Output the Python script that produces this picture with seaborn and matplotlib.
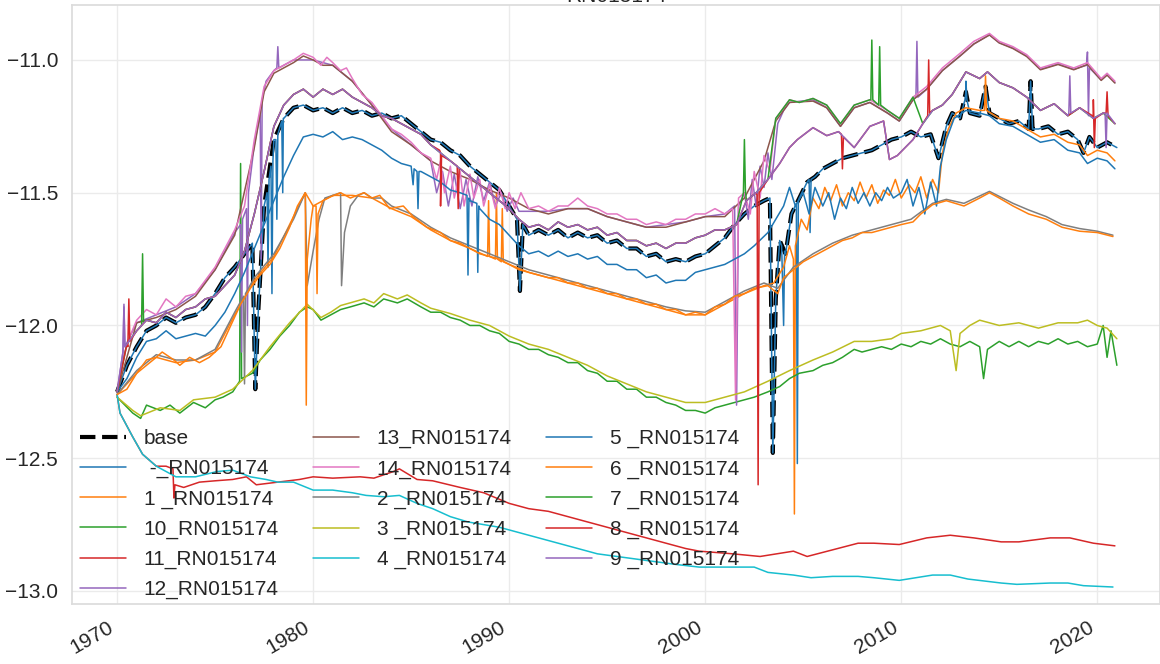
import matplotlib
matplotlib.use("Agg")
import matplotlib.pyplot as plt
import seaborn as sns

TITLE = "RN015174"
XTICKS = [1970, 1980, 1990, 2000, 2010, 2020]
YTICKS = [-13.0, -12.5, -12.0, -11.5, -11.0]

# ---- series values: (decimal year, value) ----
base_pts = [(1970.0,-12.25),(1970.5,-12.15),(1971.0,-12.08),(1971.5,-12.02),(1972.0,-12.0),(1972.5,-11.97),(1973.0,-11.99),(1973.5,-11.97),(1974.0,-11.96),(1974.5,-11.93),(1975.0,-11.88),(1975.5,-11.82),(1976.0,-11.78),(1976.5,-11.73),(1976.9,-11.69),(1977.05,-12.24),(1977.2,-11.95),(1977.5,-11.55),(1978.0,-11.3),(1978.5,-11.22),(1979.0,-11.18),(1979.5,-11.17),(1980.0,-11.19),(1980.5,-11.18),(1981.0,-11.2),(1981.5,-11.18),(1982.0,-11.2),(1982.5,-11.19),(1983.0,-11.21),(1983.5,-11.2),(1984.0,-11.22),(1984.5,-11.21),(1985.0,-11.24),(1985.5,-11.27),(1986.0,-11.3),(1986.5,-11.31),(1987.0,-11.34),(1987.5,-11.36),(1988.0,-11.4),(1988.5,-11.43),(1989.0,-11.46),(1989.5,-11.49),(1990.0,-11.55),(1990.4,-11.6),(1990.55,-11.87),(1990.7,-11.62),(1991.0,-11.66),(1991.5,-11.64),(1992.0,-11.66),(1992.5,-11.64),(1993.0,-11.67),(1993.5,-11.65),(1994.0,-11.67),(1994.5,-11.66),(1995.0,-11.69),(1995.5,-11.68),(1996.0,-11.71),(1996.5,-11.71),(1997.0,-11.74),(1997.5,-11.73),(1998.0,-11.76),(1998.5,-11.75),(1999.0,-11.76),(1999.5,-11.74),(2000.0,-11.73),(2000.5,-11.7),(2001.0,-11.67),(2001.5,-11.62),(2002.0,-11.58),(2002.5,-11.55),(2003.0,-11.53),(2003.3,-11.52),(2003.45,-12.48),(2003.6,-11.9),(2003.8,-11.68),(2004.1,-11.73),(2004.4,-11.58),(2004.8,-11.52),(2005.2,-11.46),(2005.6,-11.44),(2006.0,-11.41),(2006.5,-11.39),(2007.0,-11.37),(2007.5,-11.36),(2008.0,-11.35),(2008.5,-11.34),(2009.0,-11.32),(2009.5,-11.3),(2010.0,-11.29),(2010.5,-11.27),(2011.0,-11.29),(2011.5,-11.28),(2011.9,-11.37),(2012.3,-11.25),(2012.6,-11.2),(2013.0,-11.22),(2013.3,-11.12),(2013.5,-11.2),(2014.0,-11.21),(2014.3,-11.1),(2014.5,-11.2),(2015.0,-11.22),(2015.5,-11.24),(2016.0,-11.23),(2016.5,-11.26),(2016.6,-11.08),(2016.7,-11.26),(2017.0,-11.26),(2017.5,-11.25),(2018.0,-11.28),(2018.5,-11.27),(2019.0,-11.3),(2019.3,-11.35),(2019.6,-11.29),(2020.0,-11.33),(2020.5,-11.31),(2021.0,-11.33)]

dash_spikes = [(1977.65,-11.5),(1977.7,-11.78),(1977.75,-11.45),(1977.85,-11.4),(1977.9,-11.88),(1977.95,-11.38),(1978.1,-11.3),(1978.15,-11.6),(1978.2,-11.28),(1978.4,-11.23),(1978.45,-11.5),(1978.48,-11.22),(2003.9,-11.7),(2004.0,-12.0),(2004.05,-11.72),(2004.65,-11.54),(2004.7,-12.52),(2004.75,-11.53),(2005.3,-11.45),(2005.35,-11.65),(2005.4,-11.45),(2013.25,-11.15),(2013.3,-11.08),(2013.35,-11.15)]

s5_pts = [(1970.0,-12.25),(1970.5,-12.2),(1971.0,-12.12),(1971.5,-12.06),(1972.0,-12.05),(1972.5,-12.02),(1973.0,-12.05),(1973.5,-12.04),(1974.0,-12.03),(1974.5,-12.04),(1975.0,-12.0),(1975.5,-11.95),(1976.0,-11.88),(1976.5,-11.8),(1977.0,-11.71),(1977.5,-11.62),(1978.0,-11.53),(1978.5,-11.44),(1979.0,-11.36),(1979.5,-11.29),(1980.0,-11.28),(1980.5,-11.29),(1981.0,-11.27),(1981.5,-11.3),(1982.0,-11.29),(1982.5,-11.3),(1983.0,-11.32),(1983.5,-11.34),(1984.0,-11.37),(1984.5,-11.39),(1985.0,-11.4),(1985.1,-11.47),(1985.15,-11.41),(1985.3,-11.42),(1985.35,-11.56),(1985.4,-11.42),(1985.5,-11.42),(1986.0,-11.44),(1986.5,-11.46),(1987.0,-11.49),(1987.5,-11.5),(1987.85,-11.51),(1987.9,-11.81),(1987.95,-11.52),(1988.0,-11.53),(1988.35,-11.54),(1988.4,-11.8),(1988.45,-11.55),(1988.5,-11.56),(1989.0,-11.6),(1989.5,-11.62),(1990.0,-11.66),(1990.5,-11.7),(1991.0,-11.73),(1991.5,-11.72),(1992.0,-11.74),(1992.5,-11.72),(1993.0,-11.74),(1993.5,-11.73),(1994.0,-11.75),(1994.5,-11.74),(1995.0,-11.77),(1995.5,-11.77),(1996.0,-11.79),(1996.5,-11.79),(1997.0,-11.82),(1997.5,-11.81),(1998.0,-11.84),(1998.5,-11.83),(1999.0,-11.83),(1999.5,-11.8),(2000.0,-11.79),(2000.5,-11.78),(2001.0,-11.77),(2001.5,-11.75),(2002.0,-11.73),(2002.5,-11.7),(2003.2,-11.65),(2003.6,-11.6),(2004.0,-11.55),(2004.3,-11.48),(2004.6,-11.55),(2005.0,-11.5),(2005.3,-11.58),(2005.6,-11.48),(2006.0,-11.55),(2006.3,-11.5),(2006.6,-11.6),(2006.9,-11.52),(2007.2,-11.56),(2007.5,-11.48),(2007.8,-11.54),(2008.1,-11.5),(2008.4,-11.55),(2008.7,-11.5),(2009.0,-11.53),(2009.3,-11.48),(2009.6,-11.52),(2010.0,-11.5),(2010.3,-11.45),(2010.6,-11.55),(2010.9,-11.48),(2011.2,-11.58),(2011.5,-11.46),(2011.8,-11.55),(2012.0,-11.4),(2012.3,-11.3),(2012.7,-11.22),(2013.3,-11.19),(2014.0,-11.2),(2014.5,-11.21),(2015.0,-11.24),(2015.7,-11.25),(2016.4,-11.28),(2017.1,-11.31),(2017.8,-11.3),(2018.5,-11.34),(2019.1,-11.35),(2019.5,-11.39),(2020.0,-11.37),(2020.5,-11.38),(2020.9,-11.41)]

s1_pts = [(1970.0,-12.26),(1971.0,-12.18),(1972.0,-12.12),(1973.0,-12.14),(1974.0,-12.13),(1975.0,-12.1),(1976.0,-11.96),(1977.0,-11.83),(1978.0,-11.74),(1979.0,-11.59),(1979.6,-11.5),(1980.0,-11.55),(1981.0,-11.51),(1982.0,-11.51),(1983.0,-11.52),(1984.0,-11.56),(1985.0,-11.59),(1986.0,-11.64),(1987.0,-11.68),(1988.0,-11.71),(1988.9,-11.74),(1988.95,-11.53),(1989.0,-11.74),(1989.3,-11.75),(1989.35,-11.5),(1989.4,-11.75),(1989.6,-11.76),(1989.65,-11.56),(1989.7,-11.76),(1990.0,-11.77),(1991.0,-11.8),(1992.0,-11.82),(1993.0,-11.84),(1994.0,-11.86),(1995.0,-11.88),(1996.0,-11.9),(1997.0,-11.92),(1998.0,-11.94),(1999.0,-11.96),(2000.0,-11.96),(2001.0,-11.92),(2002.0,-11.88),(2003.0,-11.85),(2003.5,-11.84),(2004.0,-11.78),(2004.3,-11.7),(2004.5,-11.75),(2004.55,-12.71),(2004.6,-11.7),(2004.9,-11.6),(2005.2,-11.64),(2005.5,-11.52),(2005.8,-11.56),(2006.1,-11.48),(2006.4,-11.53),(2006.7,-11.47),(2007.0,-11.55),(2007.3,-11.5),(2007.6,-11.53),(2007.9,-11.46),(2008.2,-11.52),(2008.5,-11.47),(2008.8,-11.54),(2009.1,-11.49),(2009.4,-11.51),(2009.7,-11.45),(2010.0,-11.52),(2010.4,-11.47),(2010.7,-11.5),(2011.0,-11.44),(2011.3,-11.52),(2011.6,-11.45),(2011.9,-11.5),(2012.1,-11.35),(2012.4,-11.26),(2012.8,-11.2),(2013.3,-11.18),(2014.0,-11.19),(2014.25,-11.19),(2014.3,-11.06),(2014.35,-11.19),(2015.0,-11.22),(2015.7,-11.23),(2016.4,-11.26),(2017.1,-11.29),(2017.8,-11.28),(2018.5,-11.31),(2019.1,-11.32),(2019.5,-11.36),(2020.0,-11.34),(2020.5,-11.35),(2020.9,-11.38)]

s6_pts = [(1970.0,-12.26),(1970.5,-12.24),(1971.0,-12.18),(1971.5,-12.13),(1972.0,-12.12),(1972.3,-12.1),(1972.9,-12.13),(1973.2,-12.15),(1973.7,-12.12),(1974.2,-12.14),(1974.7,-12.12),(1975.3,-12.08),(1975.8,-12.0),(1976.3,-11.92),(1976.8,-11.86),(1977.3,-11.81),(1977.8,-11.77),(1978.3,-11.71),(1978.8,-11.63),(1979.2,-11.55),(1979.6,-11.5),(1979.65,-12.3),(1979.7,-11.75),(1979.9,-11.6),(1980.0,-11.55),(1980.15,-11.55),(1980.2,-11.88),(1980.25,-11.58),(1980.5,-11.53),(1980.9,-11.515),(1981.4,-11.5),(1981.9,-11.52),(1982.6,-11.5),(1983.0,-11.52),(1983.4,-11.51),(1983.9,-11.56),(1984.6,-11.55),(1985.1,-11.59),(1985.8,-11.63),(1986.5,-11.65),(1987.0,-11.68),(1987.5,-11.69),(1988.0,-11.71),(1988.5,-11.73),(1989.0,-11.74),(1989.5,-11.75),(1990.0,-11.77),(1990.5,-11.79),(1991.0,-11.8),(1991.5,-11.81),(1992.0,-11.82),(1992.5,-11.82),(1993.0,-11.84),(1993.5,-11.84),(1994.0,-11.86),(1994.5,-11.86),(1995.0,-11.88),(1995.5,-11.88),(1996.0,-11.9),(1996.5,-11.9),(1997.0,-11.92),(1997.5,-11.92),(1998.0,-11.94),(1998.5,-11.94),(1999.0,-11.96),(1999.5,-11.95),(2000.0,-11.96),(2000.5,-11.93),(2001.0,-11.92),(2001.5,-11.89),(2002.0,-11.88),(2002.5,-11.86),(2003.2,-11.85),(2003.7,-11.88),(2004.0,-11.82),(2004.5,-11.79),(2005.0,-11.76),(2005.5,-11.74),(2006.0,-11.72),(2006.5,-11.7),(2007.0,-11.68),(2007.5,-11.67),(2008.0,-11.65),(2008.5,-11.65),(2009.0,-11.64),(2009.5,-11.63),(2010.0,-11.62),(2010.6,-11.61),(2011.0,-11.58),(2011.6,-11.545),(2012.3,-11.53),(2013.2,-11.55),(2014.0,-11.52),(2014.5,-11.5),(2015.0,-11.52),(2015.7,-11.55),(2016.5,-11.58),(2017.4,-11.6),(2018.2,-11.63),(2019.1,-11.645),(2020.0,-11.65),(2020.8,-11.665)]

s2_pts = [(1970.0,-12.26),(1971.0,-12.17),(1972.0,-12.11),(1973.0,-12.13),(1974.0,-12.13),(1975.0,-12.09),(1976.0,-11.95),(1976.45,-11.89),(1976.5,-12.22),(1976.55,-11.88),(1977.0,-11.82),(1978.0,-11.73),(1979.0,-11.6),(1979.6,-11.5),(1979.7,-11.85),(1980.0,-11.72),(1980.3,-11.6),(1980.6,-11.52),(1981.0,-11.51),(1981.4,-11.5),(1981.45,-11.85),(1981.6,-11.65),(1981.9,-11.55),(1982.3,-11.51),(1982.6,-11.5),(1983.0,-11.52),(1983.5,-11.52),(1984.0,-11.55),(1985.0,-11.58),(1986.0,-11.63),(1987.0,-11.67),(1988.0,-11.7),(1989.0,-11.73),(1990.0,-11.76),(1991.0,-11.79),(1992.0,-11.81),(1993.0,-11.83),(1994.0,-11.85),(1995.0,-11.87),(1996.0,-11.89),(1997.0,-11.91),(1998.0,-11.93),(1999.0,-11.945),(2000.0,-11.95),(2001.0,-11.91),(2002.0,-11.87),(2003.0,-11.84),(2003.7,-11.86),(2004.5,-11.78),(2005.5,-11.73),(2006.5,-11.69),(2007.5,-11.66),(2008.5,-11.64),(2009.5,-11.62),(2010.5,-11.6),(2011.6,-11.54),(2012.3,-11.525),(2013.2,-11.54),(2014.5,-11.495),(2015.7,-11.54),(2016.5,-11.565),(2017.4,-11.59),(2018.2,-11.62),(2019.1,-11.635),(2020.0,-11.645),(2020.8,-11.66)]

s10_pts = [(1970.0,-12.27),(1970.4,-12.3),(1970.8,-12.33),(1971.2,-12.35),(1971.5,-12.3),(1972.2,-12.32),(1972.7,-12.3),(1973.2,-12.33),(1973.9,-12.29),(1974.5,-12.31),(1975.0,-12.28),(1975.4,-12.27),(1975.9,-12.25),(1976.25,-12.21),(1976.3,-11.39),(1976.35,-12.2),(1976.9,-12.18),(1977.3,-12.13),(1977.8,-12.09),(1978.3,-12.04),(1978.8,-12.0),(1979.3,-11.95),(1979.7,-11.93),(1980.0,-11.94),(1980.4,-11.98),(1980.9,-11.96),(1981.4,-11.94),(1981.9,-11.93),(1982.6,-11.915),(1983.1,-11.93),(1983.6,-11.9),(1984.3,-11.915),(1984.8,-11.9),(1985.5,-11.93),(1986.0,-11.95),(1986.5,-11.95),(1987.0,-11.97),(1987.5,-11.98),(1988.0,-12.0),(1988.5,-12.0),(1989.0,-12.02),(1989.5,-12.03),(1990.0,-12.06),(1990.5,-12.07),(1991.0,-12.09),(1991.5,-12.09),(1992.0,-12.11),(1992.5,-12.12),(1993.0,-12.14),(1993.5,-12.14),(1994.0,-12.17),(1994.5,-12.18),(1995.0,-12.21),(1995.5,-12.21),(1996.0,-12.24),(1996.5,-12.24),(1997.0,-12.27),(1997.5,-12.27),(1998.0,-12.29),(1998.5,-12.3),(1999.0,-12.32),(1999.5,-12.32),(2000.0,-12.33),(2000.5,-12.31),(2001.0,-12.3),(2001.5,-12.29),(2002.0,-12.28),(2002.5,-12.27),(2003.2,-12.25),(2003.8,-12.23),(2004.3,-12.2),(2004.8,-12.18),(2005.5,-12.17),(2006.0,-12.15),(2006.5,-12.14),(2007.0,-12.12),(2007.6,-12.09),(2008.0,-12.1),(2008.5,-12.09),(2009.0,-12.08),(2009.5,-12.09),(2010.0,-12.07),(2010.5,-12.08),(2011.0,-12.06),(2011.5,-12.07),(2012.0,-12.05),(2012.5,-12.07),(2013.0,-12.08),(2013.5,-12.06),(2014.0,-12.08),(2014.2,-12.2),(2014.4,-12.09),(2015.0,-12.06),(2015.5,-12.08),(2016.0,-12.06),(2016.5,-12.08),(2017.0,-12.06),(2017.5,-12.07),(2018.0,-12.05),(2018.5,-12.07),(2019.0,-12.06),(2019.5,-12.08),(2020.0,-12.07),(2020.3,-12.0),(2020.5,-12.12),(2020.7,-12.02),(2021.0,-12.15)]

s3_pts = [(1970.0,-12.27),(1970.8,-12.32),(1971.2,-12.34),(1972.2,-12.31),(1973.2,-12.32),(1973.9,-12.28),(1975.0,-12.27),(1975.9,-12.24),(1976.9,-12.17),(1977.8,-12.08),(1978.8,-11.99),(1979.7,-11.92),(1980.4,-11.97),(1980.9,-11.95),(1981.4,-11.925),(1982.6,-11.9),(1983.1,-11.915),(1983.6,-11.88),(1984.3,-11.9),(1984.8,-11.885),(1985.5,-11.915),(1986.0,-11.935),(1987.0,-11.955),(1988.0,-11.98),(1989.0,-12.0),(1990.0,-12.04),(1991.0,-12.07),(1992.0,-12.09),(1993.0,-12.12),(1994.0,-12.15),(1995.0,-12.19),(1996.0,-12.22),(1997.0,-12.25),(1998.0,-12.27),(1999.0,-12.29),(2000.0,-12.29),(2001.0,-12.27),(2002.0,-12.25),(2003.2,-12.21),(2004.3,-12.17),(2005.5,-12.13),(2006.5,-12.1),(2007.6,-12.06),(2008.5,-12.06),(2009.5,-12.05),(2010.0,-12.03),(2011.0,-12.02),(2012.0,-12.0),(2012.5,-12.02),(2012.8,-12.17),(2013.0,-12.03),(2013.5,-12.0),(2014.0,-11.98),(2014.5,-11.99),(2015.0,-12.0),(2016.0,-11.99),(2017.0,-12.01),(2018.0,-11.99),(2019.0,-11.99),(2019.5,-11.98),(2020.0,-12.0),(2020.5,-12.01),(2021.0,-12.05)]

s11_pts = [(1970.0,-12.26),(1970.15,-12.33),(1970.8,-12.42),(1971.3,-12.485),(1972.0,-12.53),(1972.5,-12.53),(1972.85,-12.54),(1972.9,-12.65),(1972.95,-12.6),(1973.4,-12.61),(1974.2,-12.59),(1975.0,-12.585),(1975.9,-12.58),(1976.6,-12.57),(1977.1,-12.6),(1978.2,-12.59),(1979.3,-12.58),(1980.0,-12.57),(1981.0,-12.575),(1982.4,-12.57),(1983.1,-12.575),(1984.1,-12.55),(1984.4,-12.54),(1985.3,-12.58),(1986.1,-12.585),(1987.5,-12.61),(1988.7,-12.63),(1990.0,-12.67),(1991.0,-12.69),(1992.0,-12.7),(1993.0,-12.72),(1994.0,-12.74),(1995.0,-12.76),(1996.0,-12.78),(1997.0,-12.8),(1998.0,-12.82),(1999.0,-12.84),(1999.7,-12.85),(2001.4,-12.86),(2002.8,-12.87),(2004.5,-12.85),(2005.2,-12.87),(2006.5,-12.845),(2007.8,-12.82),(2008.6,-12.82),(2009.9,-12.825),(2011.3,-12.8),(2012.5,-12.79),(2013.7,-12.8),(2015.1,-12.815),(2016.0,-12.815),(2017.6,-12.8),(2018.6,-12.8),(2019.8,-12.82),(2020.9,-12.83)]

s4_pts = [(1970.0,-12.26),(1970.15,-12.33),(1970.8,-12.42),(1971.3,-12.485),(1972.0,-12.53),(1972.5,-12.55),(1973.0,-12.57),(1974.0,-12.57),(1975.1,-12.55),(1975.9,-12.545),(1976.8,-12.57),(1977.6,-12.58),(1978.2,-12.59),(1979.0,-12.59),(1980.0,-12.62),(1981.0,-12.62),(1982.0,-12.63),(1982.7,-12.64),(1983.6,-12.645),(1984.4,-12.64),(1985.3,-12.67),(1986.1,-12.69),(1987.0,-12.72),(1987.9,-12.74),(1988.7,-12.75),(1989.5,-12.76),(1990.5,-12.78),(1991.5,-12.8),(1992.5,-12.82),(1993.5,-12.84),(1994.5,-12.86),(1995.5,-12.87),(1996.5,-12.88),(1997.5,-12.89),(1998.5,-12.9),(1999.7,-12.91),(2001.4,-12.91),(2002.5,-12.91),(2003.2,-12.93),(2004.5,-12.94),(2005.4,-12.95),(2006.5,-12.945),(2007.8,-12.945),(2008.6,-12.95),(2009.9,-12.96),(2011.6,-12.94),(2012.5,-12.94),(2013.4,-12.955),(2015.1,-12.97),(2015.9,-12.975),(2017.6,-12.97),(2018.5,-12.97),(2019.3,-12.98),(2020.8,-12.985)]

s14_pts = [(1970.0,-12.25),(1970.3,-12.12),(1970.6,-12.05),(1971.0,-11.98),(1971.5,-11.94),(1972.0,-11.96),(1972.5,-11.9),(1973.0,-11.93),(1973.5,-11.89),(1974.0,-11.88),(1974.5,-11.83),(1975.0,-11.78),(1975.5,-11.71),(1976.0,-11.64),(1976.5,-11.55),(1977.0,-11.3),(1977.5,-11.1),(1978.0,-11.04),(1978.5,-11.02),(1979.0,-11.0),(1979.5,-10.975),(1980.0,-10.99),(1980.4,-11.02),(1980.7,-10.99),(1981.0,-11.01),(1981.4,-11.04),(1981.7,-11.03),(1982.0,-11.07),(1982.5,-11.13),(1983.0,-11.16),(1983.5,-11.21),(1984.0,-11.26),(1984.5,-11.28),(1985.0,-11.31),(1985.5,-11.35),(1986.0,-11.37),(1986.3,-11.45),(1986.5,-11.38),(1986.7,-11.5),(1987.0,-11.4),(1987.2,-11.52),(1987.5,-11.42),(1987.7,-11.55),(1988.0,-11.43),(1988.2,-11.52),(1988.5,-11.45),(1988.7,-11.55),(1989.0,-11.47),(1989.3,-11.56),(1989.5,-11.48),(1989.8,-11.56),(1990.0,-11.5),(1990.3,-11.56),(1990.6,-11.5),(1991.0,-11.56),(1991.5,-11.55),(1992.0,-11.57),(1992.5,-11.55),(1993.0,-11.55),(1993.5,-11.52),(1994.0,-11.55),(1994.5,-11.56),(1995.0,-11.58),(1995.5,-11.58),(1996.0,-11.6),(1996.5,-11.6),(1997.0,-11.62),(1997.5,-11.61),(1998.0,-11.62),(1998.5,-11.6),(1999.0,-11.6),(1999.5,-11.58),(2000.0,-11.58),(2000.5,-11.56),(2001.0,-11.58),(2001.4,-11.56),(2001.55,-12.28),(2001.7,-11.52),(2002.0,-11.5),(2002.3,-11.58),(2002.5,-11.42),(2002.8,-11.52),(2003.0,-11.36),(2003.3,-11.42),(2003.6,-11.22),(2004.0,-11.18),(2004.3,-11.15),(2004.8,-11.16),(2005.5,-11.145),(2006.2,-11.17),(2006.9,-11.24),(2007.6,-11.17),(2008.4,-11.15),(2009.3,-11.19),(2009.9,-11.22),(2010.6,-11.14),(2011.3,-11.1),(2012.1,-11.03),(2013.0,-10.975),(2013.7,-10.93),(2014.5,-10.9),(2015.0,-10.93),(2015.7,-10.95),(2016.4,-10.98),(2017.1,-11.03),(2018.0,-11.01),(2018.8,-11.03),(2019.5,-11.01),(2020.2,-11.07),(2020.5,-11.05),(2020.9,-11.08)]

s13_pts = [(1970.0,-12.25),(1971.0,-11.99),(1972.0,-11.97),(1973.0,-11.94),(1974.0,-11.89),(1975.0,-11.79),(1976.0,-11.66),(1977.0,-11.33),(1977.5,-11.12),(1978.0,-11.05),(1979.0,-11.01),(1979.5,-10.985),(1980.0,-11.0),(1980.5,-11.02),(1981.0,-11.02),(1982.0,-11.08),(1983.0,-11.17),(1984.0,-11.27),(1985.0,-11.32),(1986.0,-11.38),(1987.0,-11.42),(1988.0,-11.45),(1989.0,-11.49),(1990.0,-11.52),(1991.0,-11.56),(1992.0,-11.58),(1993.0,-11.56),(1994.0,-11.56),(1995.0,-11.59),(1996.0,-11.61),(1997.0,-11.63),(1998.0,-11.63),(1999.0,-11.61),(2000.0,-11.59),(2001.0,-11.59),(2002.0,-11.52),(2003.0,-11.38),(2003.6,-11.23),(2004.3,-11.16),(2005.5,-11.155),(2006.2,-11.18),(2006.9,-11.25),(2007.6,-11.18),(2008.4,-11.16),(2009.3,-11.2),(2009.9,-11.23),(2010.6,-11.15),(2011.3,-11.11),(2012.1,-11.04),(2013.0,-10.985),(2013.7,-10.94),(2014.5,-10.906),(2015.0,-10.936),(2015.7,-10.957),(2016.4,-10.987),(2017.1,-11.037),(2018.0,-11.017),(2018.8,-11.037),(2019.5,-11.017),(2020.2,-11.077),(2020.5,-11.057),(2020.9,-11.087)]

s12_pts = [(1970.0,-12.25),(1970.3,-12.1),(1970.35,-11.92),(1970.4,-12.08),(1971.0,-11.99),(1972.0,-11.96),(1973.0,-11.93),(1974.0,-11.88),(1975.0,-11.79),(1975.5,-11.72),(1976.0,-11.65),(1976.3,-11.62),(1976.35,-12.1),(1976.4,-11.6),(1976.6,-11.56),(1976.65,-12.0),(1976.7,-11.5),(1977.0,-11.32),(1977.3,-11.2),(1977.35,-11.75),(1977.4,-11.15),(1977.6,-11.08),(1978.0,-11.04),(1978.15,-11.03),(1978.2,-10.95),(1978.25,-11.03),(1978.5,-11.02),(1979.0,-11.0),(1980.0,-11.0),(1981.0,-11.02),(1982.0,-11.08),(1983.0,-11.17),(1984.0,-11.26),(1985.0,-11.32),(1986.0,-11.38),(1986.3,-11.5),(1986.6,-11.42),(1986.9,-11.55),(1987.2,-11.43),(1987.5,-11.56),(1987.8,-11.45),(1988.1,-11.55),(1988.4,-11.44),(1988.7,-11.53),(1989.0,-11.46),(1989.3,-11.55),(1989.6,-11.5),(1989.9,-11.57),(1990.2,-11.52),(1990.5,-11.57),(1991.0,-11.57),(1992.0,-11.57),(1993.0,-11.56),(1994.0,-11.56),(1995.0,-11.59),(1996.0,-11.61),(1997.0,-11.63),(1998.0,-11.62),(1999.0,-11.61),(2000.0,-11.59),(2001.0,-11.58),(2001.5,-11.55),(2001.6,-12.3),(2001.7,-11.55),(2002.0,-11.5),(2002.2,-11.6),(2002.4,-11.45),(2002.6,-11.55),(2002.8,-11.4),(2003.0,-11.48),(2003.2,-11.35),(2003.4,-11.45),(2003.7,-11.24),(2004.0,-11.19),(2004.3,-11.16),(2005.5,-11.15),(2006.2,-11.18),(2006.9,-11.25),(2007.6,-11.18),(2008.4,-11.16),(2009.3,-11.2),(2009.9,-11.23),(2010.6,-11.15),(2010.75,-11.14),(2010.8,-10.93),(2010.85,-11.14),(2011.3,-11.11),(2012.1,-11.04),(2013.0,-10.985),(2013.7,-10.94),(2014.5,-10.905),(2015.0,-10.935),(2015.7,-10.955),(2016.4,-10.985),(2017.1,-11.035),(2018.0,-11.015),(2018.8,-11.035),(2019.45,-11.02),(2019.5,-10.97),(2019.55,-11.21),(2019.6,-11.03),(2020.2,-11.075),(2020.5,-11.055),(2020.9,-11.085)]

mid_pts = [(1970.0,-12.25),(1970.5,-12.07),(1971.0,-12.02),(1971.5,-11.98),(1972.0,-11.99),(1972.5,-11.95),(1973.0,-11.97),(1973.5,-11.94),(1974.0,-11.93),(1974.5,-11.9),(1975.0,-11.89),(1975.5,-11.85),(1976.0,-11.81),(1976.5,-11.72),(1977.0,-11.58),(1977.5,-11.42),(1978.0,-11.25),(1978.5,-11.17),(1979.0,-11.13),(1979.5,-11.11),(1980.0,-11.14),(1980.5,-11.11),(1981.0,-11.13),(1981.5,-11.11),(1982.0,-11.14),(1982.5,-11.16),(1983.0,-11.18),(1983.5,-11.21),(1984.0,-11.22),(1984.5,-11.24),(1985.0,-11.26),(1985.5,-11.28),(1986.0,-11.32),(1986.5,-11.35),(1987.0,-11.38),(1987.5,-11.41),(1988.0,-11.44),(1988.5,-11.47),(1989.0,-11.5),(1989.5,-11.53),(1990.0,-11.56),(1990.5,-11.6),(1991.0,-11.63),(1991.5,-11.62),(1992.0,-11.64),(1992.5,-11.61),(1993.0,-11.63),(1993.5,-11.62),(1994.0,-11.64),(1994.5,-11.63),(1995.0,-11.66),(1995.5,-11.65),(1996.0,-11.68),(1996.5,-11.68),(1997.0,-11.7),(1997.5,-11.69),(1998.0,-11.71),(1998.5,-11.69),(1999.0,-11.69),(1999.5,-11.67),(2000.0,-11.66),(2000.5,-11.64),(2001.0,-11.64),(2001.6,-11.62),(2002.1,-11.53),(2002.6,-11.5),(2003.2,-11.45),(2003.8,-11.39),(2004.3,-11.33),(2004.7,-11.3),(2005.5,-11.255),(2006.2,-11.285),(2006.8,-11.27),(2007.6,-11.33),(2008.4,-11.25),(2009.1,-11.23),(2009.4,-11.375),(2009.8,-11.36),(2010.6,-11.3),(2011.1,-11.24),(2011.6,-11.19),(2012.1,-11.17),(2012.6,-11.13),(2013.3,-11.045),(2014.0,-11.07),(2014.4,-11.045),(2015.0,-11.085),(2015.7,-11.105),(2016.4,-11.14),(2017.1,-11.19),(2017.8,-11.165),(2018.5,-11.21),(2019.1,-11.18),(2019.8,-11.22),(2020.3,-11.2),(2020.9,-11.24)]

# green 7 runs with the middle group, but with the top group between these years
s7_top_span = (2003.5, 2010.7)
s7_spikes = [(1971.25,-12.0),(1971.3,-11.73),(1971.35,-11.99),(2001.95,-11.5),(2002.0,-11.3),(2002.05,-11.49),(2008.45,-11.15),(2008.5,-10.925),(2008.55,-11.15),(2008.85,-11.17),(2008.9,-10.95),(2008.95,-11.17)]

s8_spikes = [(1970.55,-12.08),(1970.6,-11.9),(1970.65,-12.06),(1986.45,-11.34),(1986.5,-11.55),(1986.55,-11.36),(1987.35,-11.4),(1987.4,-11.56),(1987.45,-11.41),(2002.65,-11.51),(2002.7,-12.6),(2002.75,-11.5),(2006.95,-11.28),(2007.0,-11.41),(2007.05,-11.29),(2011.35,-11.21),(2011.4,-11.0),(2011.45,-11.2),(2019.75,-11.21),(2019.8,-11.15),(2019.85,-11.33),(2019.9,-11.22),(2020.45,-11.2),(2020.5,-11.12),(2020.55,-11.21)]

s9_spikes = [(1970.3,-12.1),(1970.35,-11.93),(1970.4,-12.08),(2018.55,-11.2),(2018.6,-11.06),(2018.65,-11.2),(2020.4,-11.2),(2020.45,-11.33),(2020.5,-11.2)]


def merged(parent, extra):
    return sorted(parent + extra, key=lambda p: p[0])


lo, hi = s7_top_span
s7_pts = merged([p for p in mid_pts if p[0] < lo or p[0] > hi]
                + [p for p in s14_pts if lo <= p[0] <= hi], s7_spikes)

sns.set_theme(style="whitegrid")
plt.rcParams['font.family'] = ['Liberation Sans', 'DejaVu Sans']
plt.rcParams['axes.edgecolor'] = '#dcdcdc'
plt.rcParams['grid.color'] = '#ebebeb'

pal = sns.color_palette("tab10")
LW = 1.1
series = [
    ("base", base_pts, 'black', '--', 3.0),
    (" -_RN015174", merged(base_pts, dash_spikes), pal[0], '-', LW),
    ("1 _RN015174", s1_pts, pal[1], '-', LW),
    ("10_RN015174", s10_pts, pal[2], '-', LW),
    ("11_RN015174", s11_pts, pal[3], '-', LW),
    ("12_RN015174", s12_pts, pal[4], '-', LW),
    ("13_RN015174", s13_pts, pal[5], '-', LW),
    ("14_RN015174", s14_pts, pal[6], '-', LW),
    ("2 _RN015174", s2_pts, pal[7], '-', LW),
    ("3 _RN015174", s3_pts, pal[8], '-', LW),
    ("4 _RN015174", s4_pts, pal[9], '-', LW),
    ("5 _RN015174", s5_pts, pal[0], '-', LW),
    ("6 _RN015174", s6_pts, pal[1], '-', LW),
    ("7 _RN015174", s7_pts, pal[2], '-', LW),
    ("8 _RN015174", merged(mid_pts, s8_spikes), pal[3], '-', LW),
    ("9 _RN015174", merged(mid_pts, s9_spikes), pal[4], '-', LW),
]

W, H = 1160, 664
fig = plt.figure(figsize=(W / 100, H / 100), dpi=100)
ax = fig.add_axes([72 / W, 1 - 604 / H, 1 - 72 / W, (604 - 5) / H])

for label, pts, color, ls, lw in series:
    xs = [p[0] for p in pts]
    ys = [p[1] for p in pts]
    sns.lineplot(x=xs, y=ys, ax=ax, color=color, linestyle=ls, linewidth=lw,
                 label=label, sort=False, estimator=None)

ax.set_xlim(1967.7, 2023.2)
ax.set_ylim(-13.049, -10.793)
ax.set_xticks(XTICKS)
ax.set_xticklabels([str(t) for t in XTICKS], rotation=30, ha='right')
ax.set_yticks(YTICKS)
ax.set_yticklabels([f"\u2212{abs(v):.1f}" for v in YTICKS])
ax.tick_params(axis='both', labelsize=15, colors='#262626', pad=4)
ax.set_xlabel("")
ax.set_ylabel("")
ax.set_title(TITLE, fontsize=15, pad=2, color='#262626')

ax.legend(loc='upper left', bbox_to_anchor=(80 / W, 1 - 429 / H),
          bbox_transform=fig.transFigure, ncol=3, frameon=False, fontsize=15,
          handlelength=2.2, handletextpad=0.85, columnspacing=1.65,
          labelspacing=0.53, borderpad=0, borderaxespad=0)

fig.savefig("out.png", dpi=100)
